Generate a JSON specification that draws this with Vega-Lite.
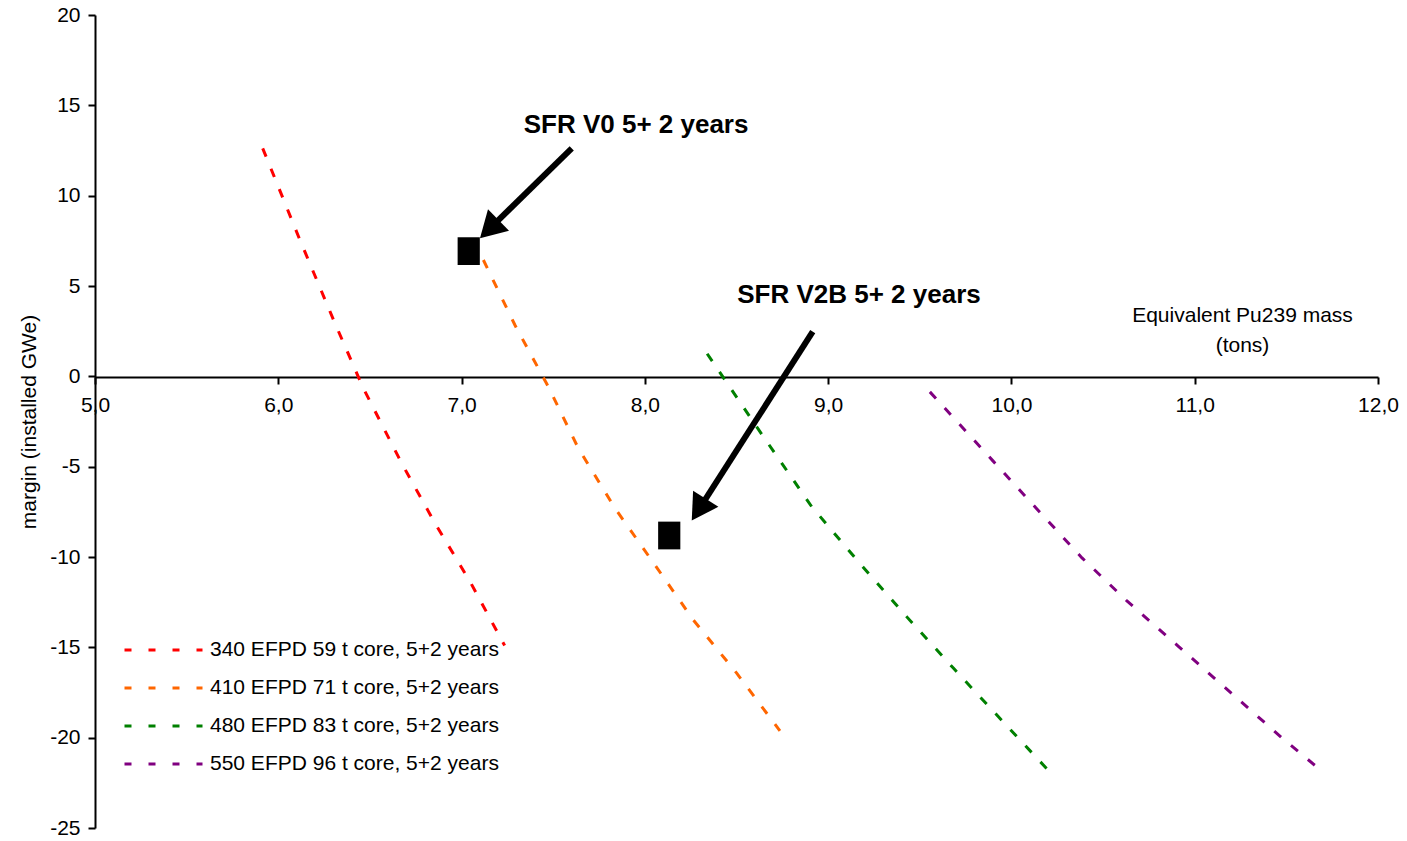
{
  "$schema": "https://vega.github.io/schema/vega-lite/v6.json",
  "width": 1283,
  "height": 813,
  "autosize": {"type": "none"},
  "padding": {"left": 95, "top": 15, "right": 29, "bottom": 13},
  "background": "white",
  "config": {
    "view": {"stroke": null},
    "font": "Liberation Sans",
    "axis": {"grid": false}
  },
  "datasets": {
    "curves": [
      {"series": "340 EFPD 59 t core, 5+2 years", "mass": 5.915, "margin": 12.62},
      {"series": "340 EFPD 59 t core, 5+2 years", "mass": 6.118, "margin": 7.55},
      {"series": "340 EFPD 59 t core, 5+2 years", "mass": 6.309, "margin": 2.94},
      {"series": "340 EFPD 59 t core, 5+2 years", "mass": 6.464, "margin": -0.66},
      {"series": "340 EFPD 59 t core, 5+2 years", "mass": 6.673, "margin": -4.81},
      {"series": "340 EFPD 59 t core, 5+2 years", "mass": 6.855, "margin": -8.13},
      {"series": "340 EFPD 59 t core, 5+2 years", "mass": 7.046, "margin": -11.36},
      {"series": "340 EFPD 59 t core, 5+2 years", "mass": 7.235, "margin": -14.9},
      {"series": "410 EFPD 71 t core, 5+2 years", "mass": 7.119, "margin": 6.44},
      {"series": "410 EFPD 71 t core, 5+2 years", "mass": 7.291, "margin": 2.84},
      {"series": "410 EFPD 71 t core, 5+2 years", "mass": 7.473, "margin": -0.57},
      {"series": "410 EFPD 71 t core, 5+2 years", "mass": 7.637, "margin": -3.98},
      {"series": "410 EFPD 71 t core, 5+2 years", "mass": 7.837, "margin": -7.3},
      {"series": "410 EFPD 71 t core, 5+2 years", "mass": 8.055, "margin": -10.44},
      {"series": "410 EFPD 71 t core, 5+2 years", "mass": 8.264, "margin": -13.48},
      {"series": "410 EFPD 71 t core, 5+2 years", "mass": 8.501, "margin": -16.43},
      {"series": "410 EFPD 71 t core, 5+2 years", "mass": 8.737, "margin": -19.62},
      {"series": "480 EFPD 83 t core, 5+2 years", "mass": 8.34, "margin": 1.25},
      {"series": "480 EFPD 83 t core, 5+2 years", "mass": 8.628, "margin": -3.06},
      {"series": "480 EFPD 83 t core, 5+2 years", "mass": 8.91, "margin": -7.21},
      {"series": "480 EFPD 83 t core, 5+2 years", "mass": 9.164, "margin": -10.25},
      {"series": "480 EFPD 83 t core, 5+2 years", "mass": 9.428, "margin": -13.3},
      {"series": "480 EFPD 83 t core, 5+2 years", "mass": 9.683, "margin": -16.15},
      {"series": "480 EFPD 83 t core, 5+2 years", "mass": 9.928, "margin": -18.83},
      {"series": "480 EFPD 83 t core, 5+2 years", "mass": 10.194, "margin": -21.73},
      {"series": "550 EFPD 96 t core, 5+2 years", "mass": 9.555, "margin": -0.86},
      {"series": "550 EFPD 96 t core, 5+2 years", "mass": 9.899, "margin": -4.68},
      {"series": "550 EFPD 96 t core, 5+2 years", "mass": 10.139, "margin": -7.34},
      {"series": "550 EFPD 96 t core, 5+2 years", "mass": 10.385, "margin": -10.05},
      {"series": "550 EFPD 96 t core, 5+2 years", "mass": 10.63, "margin": -12.43},
      {"series": "550 EFPD 96 t core, 5+2 years", "mass": 10.914, "margin": -14.97},
      {"series": "550 EFPD 96 t core, 5+2 years", "mass": 11.198, "margin": -17.52},
      {"series": "550 EFPD 96 t core, 5+2 years", "mass": 11.476, "margin": -20.01},
      {"series": "550 EFPD 96 t core, 5+2 years", "mass": 11.705, "margin": -21.95}
    ],
    "designs": [
      {"design": "SFR V0 5+ 2 years", "mass": 7.039, "margin": 6.93},
      {"design": "SFR V2B 5+ 2 years", "mass": 8.133, "margin": -8.81}
    ],
    "arrows": [
      {"design": "SFR V0 5+ 2 years", "mass": 7.601, "margin": 12.62, "mass2": 7.151, "margin2": 8.15},
      {"design": "SFR V2B 5+ 2 years", "mass": 8.916, "margin": 2.47, "mass2": 8.294, "margin2": -7.38}
    ],
    "labels": [
      {"text": "SFR V0 5+ 2 years", "mass": 7.952, "margin": 13.47},
      {"text": "SFR V2B 5+ 2 years", "mass": 9.168, "margin": 4.05}
    ]
  },
  "layer": [
    {
      "data": {"name": "curves"},
      "mark": {"type": "line", "strokeDash": [9, 13], "strokeWidth": 3},
      "encoding": {
        "x": {
          "field": "mass",
          "type": "quantitative",
          "scale": {"domain": [5, 12], "nice": false, "zero": false},
          "axis": {
            "values": [5, 6, 7, 8, 9, 10, 11, 12],
            "labelExpr": "replace(format(datum.value, '.1f'), '.', ',')",
            "offset": -451,
            "domainColor": "black",
            "domainWidth": 2,
            "tickColor": "black",
            "tickWidth": 2,
            "tickSize": 7,
            "labelFont": "Liberation Sans",
            "labelFontSize": 21,
            "labelColor": "black",
            "labelPadding": 10,
            "labelFlush": false,
            "labelOverlap": false,
            "title": ["Equivalent Pu239 mass", "(tons)"],
            "titleFont": "Liberation Sans",
            "titleFontSize": 21,
            "titleFontWeight": "normal",
            "titleColor": "black",
            "titleX": 1147,
            "titleY": -56,
            "titleBaseline": "alphabetic",
            "titleAlign": "center",
            "titleAngle": 0,
            "titleLineHeight": 30
          }
        },
        "y": {
          "field": "margin",
          "type": "quantitative",
          "scale": {"domain": [-25, 20], "nice": false, "zero": false},
          "axis": {
            "values": [-25, -20, -15, -10, -5, 0, 5, 10, 15, 20],
            "labelExpr": "'' + datum.value",
            "domainColor": "black",
            "domainWidth": 2,
            "tickColor": "black",
            "tickWidth": 2,
            "tickSize": 7,
            "labelFont": "Liberation Sans",
            "labelFontSize": 21,
            "labelColor": "black",
            "labelPadding": 8,
            "labelOverlap": false,
            "title": "margin (installed GWe)",
            "titleFont": "Liberation Sans",
            "titleFontSize": 21,
            "titleFontWeight": "normal",
            "titleColor": "black",
            "titlePadding": 10
          }
        },
        "color": {
          "field": "series",
          "type": "nominal",
          "scale": {
            "domain": ["340 EFPD 59 t core, 5+2 years", "410 EFPD 71 t core, 5+2 years", "480 EFPD 83 t core, 5+2 years", "550 EFPD 96 t core, 5+2 years"],
            "range": ["#FF0000", "#FF6600", "#008000", "#800080"]
          },
          "legend": {
            "title": null,
            "orient": "none",
            "legendX": 28,
            "legendY": 625,
            "symbolType": "stroke",
            "symbolSize": 6084,
            "symbolStrokeWidth": 3,
            "symbolDash": [7, 17],
            "labelFont": "Liberation Sans",
            "labelFontSize": 21,
            "labelColor": "black",
            "labelOffset": 6,
            "labelLimit": 0,
            "clipHeight": 20,
            "rowPadding": 17,
            "padding": 0
          }
        }
      }
    },
    {
      "data": {"name": "arrows"},
      "mark": {"type": "rule", "color": "black", "strokeWidth": 6},
      "encoding": {
        "x": {"field": "mass", "type": "quantitative"},
        "y": {"field": "margin", "type": "quantitative"},
        "x2": {"field": "mass2"},
        "y2": {"field": "margin2"}
      }
    },
    {
      "data": {"name": "arrows"},
      "transform": [{"filter": "datum.design == 'SFR V0 5+ 2 years'"}],
      "mark": {"type": "point", "shape": "triangle-up", "filled": true, "color": "black", "opacity": 1, "size": 900, "angle": 225.5, "strokeWidth": 0},
      "encoding": {
        "x": {"field": "mass2", "type": "quantitative"},
        "y": {"field": "margin2", "type": "quantitative"}
      }
    },
    {
      "data": {"name": "arrows"},
      "transform": [{"filter": "datum.design == 'SFR V2B 5+ 2 years'"}],
      "mark": {"type": "point", "shape": "triangle-up", "filled": true, "color": "black", "opacity": 1, "size": 900, "angle": 212.6, "strokeWidth": 0},
      "encoding": {
        "x": {"field": "mass2", "type": "quantitative"},
        "y": {"field": "margin2", "type": "quantitative"}
      }
    },
    {
      "data": {"name": "designs"},
      "mark": {"type": "point", "shape": "M-0.8,-1H0.8V1H-0.8Z", "filled": true, "color": "black", "opacity": 1, "size": 770, "strokeWidth": 0},
      "encoding": {
        "x": {"field": "mass", "type": "quantitative"},
        "y": {"field": "margin", "type": "quantitative"}
      }
    },
    {
      "data": {"name": "labels"},
      "mark": {"type": "text", "font": "Liberation Sans", "fontSize": 26, "fontWeight": "bold", "align": "center", "baseline": "alphabetic", "color": "black"},
      "encoding": {
        "x": {"field": "mass", "type": "quantitative"},
        "y": {"field": "margin", "type": "quantitative"},
        "text": {"field": "text"}
      }
    }
  ]
}
